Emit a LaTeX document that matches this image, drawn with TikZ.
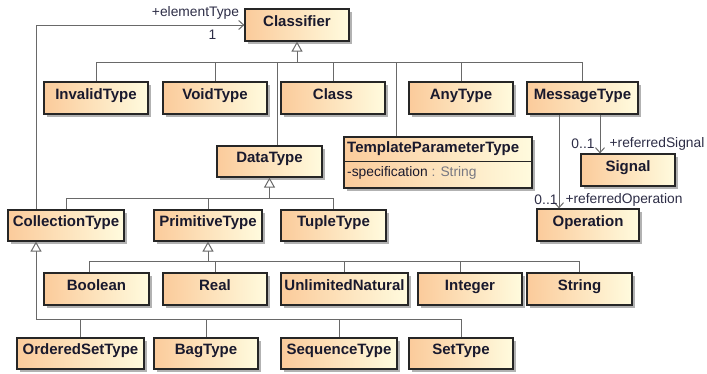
\documentclass[tikz,border=0pt]{standalone}
\usepackage{fontspec}
\setmainfont{Liberation Sans}
\usetikzlibrary{arrows.meta,shadows}
\definecolor{boxL}{RGB}{251,203,155}
\definecolor{boxR}{RGB}{255,251,222}
\definecolor{edge}{RGB}{105,105,105}
\definecolor{txt}{RGB}{25,25,45}
\definecolor{lbl}{RGB}{45,45,70}
\definecolor{typ}{RGB}{120,120,130}
\begin{document}
\begin{tikzpicture}[x=1pt,y=-1pt,
  cls/.style={draw=black!85, line width=1.2pt, left color=boxL, right color=boxR,
    inner sep=0pt, minimum height=32pt, minimum width=104pt,
    text height=8pt, text depth=5.4pt,
    font=\fontsize{15}{17}\selectfont\bfseries, text=txt,
    drop shadow={shadow xshift=2.5pt, shadow yshift=-2.5pt, fill=black, opacity=0.3}},
  conn/.style={draw=edge, line width=1pt},
  gen/.style={conn, -{Triangle[open, length=10pt, width=11pt, fill=white]}},
  assoc/.style={conn, -{Straight Barb[length=5pt, width=9pt]}},
  lab/.style={font=\fontsize{13.8}{16}\selectfont, text=lbl, inner sep=0pt}]
\useasboundingbox (0,0) rectangle (707,373);

% row 1
\node[cls] (Classifier) at (297,25) {Classifier};
\node[cls] (InvalidType) at (96,98) {InvalidType};
\node[cls] (VoidType) at (215,98) {VoidType};
\node[cls] (Class) at (333,98) {Class};
\node[cls] (AnyType) at (461,98) {AnyType};
\node[cls, minimum width=111pt] (MessageType) at (582.5,98) {MessageType};

% row 2
\node[cls, minimum width=105pt, minimum height=31pt] (DataType) at (269.5,161.5) {DataType};
\node[cls, minimum width=188pt, minimum height=51pt] (TPT) at (438,162.5) {};
\node[anchor=west, inner sep=0pt, font=\fontsize{15}{17}\selectfont\bfseries, text=txt] (TPTname) at (347,148.5) {TemplateParameterType};
\draw[black!85, line width=1pt] (344,161) -- (532,161);
\node[lab, anchor=west, text=txt] (TPTattr) at (347,172.5) {-specification \textcolor{typ}{: String}};
\node[cls, minimum width=94pt] (Signal) at (628,170) {Signal};

% row 3
\node[cls, minimum width=116pt, minimum height=31pt] (CollectionType) at (66,225.5) {CollectionType};
\node[cls, minimum width=108pt, minimum height=31pt] (PrimitiveType) at (208,225.5) {PrimitiveType};
\node[cls, minimum width=105pt, minimum height=31pt] (TupleType) at (333.5,225.5) {TupleType};
\node[cls, minimum width=102pt] (Operation) at (588,225) {Operation};

% row 4
\node[cls, minimum width=105pt] (Boolean) at (96.5,289) {Boolean};
\node[cls] (Real) at (215,289) {Real};
\node[cls, minimum width=127pt] (UnlimitedNatural) at (344.5,289) {UnlimitedNatural};
\node[cls] (Integer) at (470,289) {Integer};
\node[cls, minimum width=105pt] (String) at (579.5,289) {String};

% row 5
\node[cls, minimum width=127pt, minimum height=31pt] (OrderedSetType) at (80.5,353.5) {OrderedSetType};
\node[cls, minimum height=31pt] (BagType) at (206,353.5) {BagType};
\node[cls, minimum width=116pt, minimum height=31pt] (SequenceType) at (339,353.5) {SequenceType};
\node[cls, minimum height=31pt] (SetType) at (461,353.5) {SetType};

% generalization to Classifier
\coordinate (g1) at (297,62);
\draw[gen] (g1) -- (Classifier.south);
\foreach \n in {InvalidType,VoidType,Class,AnyType,MessageType}
  \draw[conn] (\n.north) |- (g1);
\coordinate (dtj) at (277,62);
\draw[conn] (DataType.north -| dtj) -- (dtj);
\coordinate (tptj) at (396,62);
\draw[conn] (TPT.north -| tptj) -- (tptj);

% generalization to DataType
\coordinate (g2) at (269.5,198);
\draw[gen] (g2) -- (DataType.south);
\foreach \n in {CollectionType,PrimitiveType,TupleType}
  \draw[conn] (\n.north) |- (g2);

% generalization to PrimitiveType
\coordinate (g3) at (208,261);
\draw[gen] (g3) -- (PrimitiveType.south);
\coordinate (bj) at (89,261);
\coordinate (ij) at (460,261);
\draw[conn] (Boolean.north -| bj) |- (g3);
\draw[conn] (Integer.north -| ij) |- (g3);
\foreach \n in {Real,UnlimitedNatural,String}
  \draw[conn] (\n.north) |- (g3);

% generalization to CollectionType
\coordinate (cj) at (36,319);
\draw[gen] (cj) -- (CollectionType.south -| cj);
\foreach \n in {OrderedSetType,BagType,SequenceType,SetType}
  \draw[conn] (\n.north) |- (cj);

% association elementType
\draw[assoc] (CollectionType.north -| cj) |- (Classifier.west);
\node[lab] (etl) at (195.5,13) {+elementType};
\node[lab] (etm) at (212.5,35) {1};

% MessageType associations
\coordinate (mo) at ([xshift=-23.5pt]MessageType.south);
\coordinate (ms) at ([xshift=17.5pt]MessageType.south);
\draw[assoc] (mo) -- (mo |- Operation.north);
\draw[assoc] (ms) -- (ms |- Signal.north);
\node[lab] (sm) at (583,144) {0..1};
\node[lab] (sr) at (657,144) {+referredSignal};
\node[lab] (om) at (546,200) {0..1};
\node[lab] (or) at (624,200) {+referredOperation};
\end{tikzpicture}
\end{document}
